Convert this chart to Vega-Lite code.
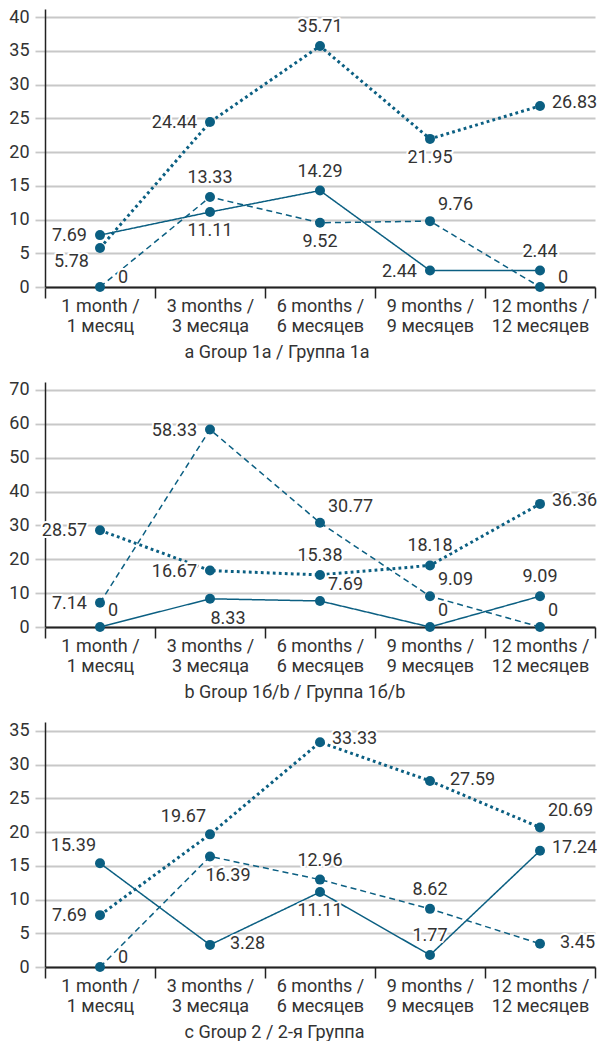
{
  "$schema": "https://vega.github.io/schema/vega-lite/v6.json",
  "background": "white",
  "padding": {"left": 8, "top": 8, "right": 0, "bottom": 0},
  "config": {
    "font": "Roboto",
    "view": {"stroke": null},
    "axis": {"labelFontSize": 18, "labelColor": "#333333", "titleFontSize": 18, "titleColor": "#333333", "titleFontWeight": "normal"},
    "axisX": {"labelAngle": 0, "tickBand": "extent", "tickSize": 11, "tickColor": "#222222", "tickWidth": 1.5, "domainColor": "#222222", "domainWidth": 2, "labelPadding": -1, "labelLineHeight": 20, "grid": false, "titleAlign": "left", "titleX": 139, "titleY": 65, "titleBaseline": "middle",
      "labelExpr": "[slice(datum.label, 0, indexof(datum.label, '/') + 1), slice(datum.label, indexof(datum.label, '/') + 2)]"},
    "axisY": {"title": null, "grid": true, "gridColor": "#c8c8c8", "gridWidth": 1.8, "tickColor": "#c8c8c8", "tickSize": 10, "tickWidth": 1.8, "domainColor": "#222222", "domainWidth": 1.5, "labelPadding": 6}
  },
  "datasets": {
    "d": [
      {"g": "a", "period": "1 month / 1 месяц", "series": "solid", "value": 7.69, "pos": "L"},
      {"g": "a", "period": "1 month / 1 месяц", "series": "dashed", "value": 0, "pos": "R0"},
      {"g": "a", "period": "1 month / 1 месяц", "series": "dotted", "value": 5.78, "pos": "BL"},
      {"g": "a", "period": "3 months / 3 месяца", "series": "solid", "value": 11.11, "pos": "B"},
      {"g": "a", "period": "3 months / 3 месяца", "series": "dashed", "value": 13.33, "pos": "T"},
      {"g": "a", "period": "3 months / 3 месяца", "series": "dotted", "value": 24.44, "pos": "L"},
      {"g": "a", "period": "6 months / 6 месяцев", "series": "solid", "value": 14.29, "pos": "T"},
      {"g": "a", "period": "6 months / 6 месяцев", "series": "dashed", "value": 9.52, "pos": "B"},
      {"g": "a", "period": "6 months / 6 месяцев", "series": "dotted", "value": 35.71, "pos": "T"},
      {"g": "a", "period": "9 months / 9 месяцев", "series": "solid", "value": 2.44, "pos": "L"},
      {"g": "a", "period": "9 months / 9 месяцев", "series": "dashed", "value": 9.76, "pos": "TR"},
      {"g": "a", "period": "9 months / 9 месяцев", "series": "dotted", "value": 21.95, "pos": "B"},
      {"g": "a", "period": "12 months / 12 месяцев", "series": "solid", "value": 2.44, "pos": "T"},
      {"g": "a", "period": "12 months / 12 месяцев", "series": "dashed", "value": 0, "pos": "R0"},
      {"g": "a", "period": "12 months / 12 месяцев", "series": "dotted", "value": 26.83, "pos": "R"},

      {"g": "b", "period": "1 month / 1 месяц", "series": "solid", "value": 0, "pos": "TR"},
      {"g": "b", "period": "1 month / 1 месяц", "series": "dashed", "value": 7.14, "pos": "L"},
      {"g": "b", "period": "1 month / 1 месяц", "series": "dotted", "value": 28.57, "pos": "L"},
      {"g": "b", "period": "3 months / 3 месяца", "series": "solid", "value": 8.33, "pos": "BR"},
      {"g": "b", "period": "3 months / 3 месяца", "series": "dashed", "value": 58.33, "pos": "L"},
      {"g": "b", "period": "3 months / 3 месяца", "series": "dotted", "value": 16.67, "pos": "L"},
      {"g": "b", "period": "6 months / 6 месяцев", "series": "solid", "value": 7.69, "pos": "TR"},
      {"g": "b", "period": "6 months / 6 месяцев", "series": "dashed", "value": 30.77, "pos": "TR"},
      {"g": "b", "period": "6 months / 6 месяцев", "series": "dotted", "value": 15.38, "pos": "T"},
      {"g": "b", "period": "9 months / 9 месяцев", "series": "solid", "value": 0, "pos": "TR"},
      {"g": "b", "period": "9 months / 9 месяцев", "series": "dashed", "value": 9.09, "pos": "TR"},
      {"g": "b", "period": "9 months / 9 месяцев", "series": "dotted", "value": 18.18, "pos": "T"},
      {"g": "b", "period": "12 months / 12 месяцев", "series": "solid", "value": 9.09, "pos": "T"},
      {"g": "b", "period": "12 months / 12 месяцев", "series": "dashed", "value": 0, "pos": "TR"},
      {"g": "b", "period": "12 months / 12 месяцев", "series": "dotted", "value": 36.36, "pos": "R"},

      {"g": "c", "period": "1 month / 1 месяц", "series": "solid", "value": 15.39, "pos": "TL"},
      {"g": "c", "period": "1 month / 1 месяц", "series": "dashed", "value": 0, "pos": "R0"},
      {"g": "c", "period": "1 month / 1 месяц", "series": "dotted", "value": 7.69, "pos": "L"},
      {"g": "c", "period": "3 months / 3 месяца", "series": "solid", "value": 3.28, "pos": "RR"},
      {"g": "c", "period": "3 months / 3 месяца", "series": "dashed", "value": 16.39, "pos": "BR"},
      {"g": "c", "period": "3 months / 3 месяца", "series": "dotted", "value": 19.67, "pos": "TL"},
      {"g": "c", "period": "6 months / 6 месяцев", "series": "solid", "value": 11.11, "pos": "B"},
      {"g": "c", "period": "6 months / 6 месяцев", "series": "dashed", "value": 12.96, "pos": "T"},
      {"g": "c", "period": "6 months / 6 месяцев", "series": "dotted", "value": 33.33, "pos": "R"},
      {"g": "c", "period": "9 months / 9 месяцев", "series": "solid", "value": 1.77, "pos": "T"},
      {"g": "c", "period": "9 months / 9 месяцев", "series": "dashed", "value": 8.62, "pos": "T"},
      {"g": "c", "period": "9 months / 9 месяцев", "series": "dotted", "value": 27.59, "pos": "RR"},
      {"g": "c", "period": "12 months / 12 месяцев", "series": "solid", "value": 17.24, "pos": "R"},
      {"g": "c", "period": "12 months / 12 месяцев", "series": "dashed", "value": 3.45, "pos": "RR"},
      {"g": "c", "period": "12 months / 12 месяцев", "series": "dotted", "value": 20.69, "pos": "TR"}
    ]
  },
  "spacing": 95,
  "bounds": "flush",
  "vconcat": [
    {
      "width": 550, "height": 278,
      "data": {"name": "d"},
      "transform": [{"filter": "datum.g == 'a'"}],
      "encoding": {
        "x": {"field": "period", "type": "nominal", "sort": ["1 month / 1 месяц", "3 months / 3 месяца", "6 months / 6 месяцев", "9 months / 9 месяцев", "12 months / 12 месяцев"], "scale": {"type": "band", "paddingInner": 0, "paddingOuter": 0}, "axis": {"title": "a Group 1a / Группа 1а"}},
        "y": {"field": "value", "type": "quantitative", "scale": {"domain": [0, 41.2], "nice": false, "zero": true}, "axis": {"values": [0, 5, 10, 15, 20, 25, 30, 35, 40]}}
      },
      "layer": [
        {"transform": [{"filter": "datum.series != 'dotted'"}], "mark": {"type": "line", "color": "#0b5f82", "strokeWidth": 1.5}, "encoding": {"detail": {"field": "series"}, "strokeDash": {"field": "series", "type": "nominal", "scale": {"domain": ["solid", "dashed"], "range": [[1, 0], [6, 4]]}, "legend": null}}},
        {"transform": [{"filter": "datum.series == 'dotted'"}], "mark": {"type": "line", "color": "#0b5f82", "strokeWidth": 3, "strokeDash": [2.8, 3.2]}},
        {"mark": {"type": "point", "filled": true, "opacity": 1, "size": 100, "color": "#0b5f82"}},
        {"mark": {"type": "text", "fontSize": 18, "color": "white", "stroke": "white", "strokeWidth": 4, "strokeJoin": "round", "baseline": "middle",
          "align": {"expr": "indexof(['L','BL','TL'], datum.pos) >= 0 ? 'right' : indexof(['R','RR','R0','TR'], datum.pos) >= 0 ? 'left' : 'center'"},
          "dx": {"expr": "datum.pos=='L'?-13:datum.pos=='BL'?-11:datum.pos=='TL'?-4:datum.pos=='R'?12:datum.pos=='RR'?20:datum.pos=='R0'?18:datum.pos=='TR'?8:datum.pos=='BR'?18:0"},
          "dy": {"expr": "datum.pos=='T'?-19:datum.pos=='B'?19:datum.pos=='TR'?-16:datum.pos=='TL'?-17:datum.pos=='BL'?14:datum.pos=='BR'?20:datum.pos=='R0'?-9:datum.pos=='R'?-3:datum.pos=='RR'?-1:1"}},
          "encoding": {"text": {"field": "value", "type": "quantitative", "format": ".2~f"}}},
        {"mark": {"type": "text", "fontSize": 18, "color": "#333333", "baseline": "middle",
          "align": {"expr": "indexof(['L','BL','TL'], datum.pos) >= 0 ? 'right' : indexof(['R','RR','R0','TR'], datum.pos) >= 0 ? 'left' : 'center'"},
          "dx": {"expr": "datum.pos=='L'?-13:datum.pos=='BL'?-11:datum.pos=='TL'?-4:datum.pos=='R'?12:datum.pos=='RR'?20:datum.pos=='R0'?18:datum.pos=='TR'?8:datum.pos=='BR'?18:0"},
          "dy": {"expr": "datum.pos=='T'?-19:datum.pos=='B'?19:datum.pos=='TR'?-16:datum.pos=='TL'?-17:datum.pos=='BL'?14:datum.pos=='BR'?20:datum.pos=='R0'?-9:datum.pos=='R'?-3:datum.pos=='RR'?-1:1"}},
          "encoding": {"text": {"field": "value", "type": "quantitative", "format": ".2~f"}}}
      ]
    },
    {
      "width": 550, "height": 245,
      "data": {"name": "d"},
      "transform": [{"filter": "datum.g == 'b'"}],
      "encoding": {
        "x": {"field": "period", "type": "nominal", "sort": ["1 month / 1 месяц", "3 months / 3 месяца", "6 months / 6 месяцев", "9 months / 9 месяцев", "12 months / 12 месяцев"], "scale": {"type": "band", "paddingInner": 0, "paddingOuter": 0}, "axis": {"title": "b Group 1б/b / Группа 1б/b"}},
        "y": {"field": "value", "type": "quantitative", "scale": {"domain": [0, 72.36], "nice": false, "zero": true}, "axis": {"values": [0, 10, 20, 30, 40, 50, 60, 70]}}
      },
      "layer": [
        {"transform": [{"filter": "datum.series != 'dotted'"}], "mark": {"type": "line", "color": "#0b5f82", "strokeWidth": 1.5}, "encoding": {"detail": {"field": "series"}, "strokeDash": {"field": "series", "type": "nominal", "scale": {"domain": ["solid", "dashed"], "range": [[1, 0], [6, 4]]}, "legend": null}}},
        {"transform": [{"filter": "datum.series == 'dotted'"}], "mark": {"type": "line", "color": "#0b5f82", "strokeWidth": 3, "strokeDash": [2.8, 3.2]}},
        {"mark": {"type": "point", "filled": true, "opacity": 1, "size": 100, "color": "#0b5f82"}},
        {"mark": {"type": "text", "fontSize": 18, "color": "white", "stroke": "white", "strokeWidth": 4, "strokeJoin": "round", "baseline": "middle",
          "align": {"expr": "indexof(['L','BL','TL'], datum.pos) >= 0 ? 'right' : indexof(['R','RR','R0','TR'], datum.pos) >= 0 ? 'left' : 'center'"},
          "dx": {"expr": "datum.pos=='L'?-13:datum.pos=='BL'?-11:datum.pos=='TL'?-4:datum.pos=='R'?12:datum.pos=='RR'?20:datum.pos=='R0'?18:datum.pos=='TR'?8:datum.pos=='BR'?18:0"},
          "dy": {"expr": "datum.pos=='T'?-19:datum.pos=='B'?19:datum.pos=='TR'?-16:datum.pos=='TL'?-17:datum.pos=='BL'?14:datum.pos=='BR'?20:datum.pos=='R0'?-9:datum.pos=='R'?-3:datum.pos=='RR'?-1:1"}},
          "encoding": {"text": {"field": "value", "type": "quantitative", "format": ".2~f"}}},
        {"mark": {"type": "text", "fontSize": 18, "color": "#333333", "baseline": "middle",
          "align": {"expr": "indexof(['L','BL','TL'], datum.pos) >= 0 ? 'right' : indexof(['R','RR','R0','TR'], datum.pos) >= 0 ? 'left' : 'center'"},
          "dx": {"expr": "datum.pos=='L'?-13:datum.pos=='BL'?-11:datum.pos=='TL'?-4:datum.pos=='R'?12:datum.pos=='RR'?20:datum.pos=='R0'?18:datum.pos=='TR'?8:datum.pos=='BR'?18:0"},
          "dy": {"expr": "datum.pos=='T'?-19:datum.pos=='B'?19:datum.pos=='TR'?-16:datum.pos=='TL'?-17:datum.pos=='BL'?14:datum.pos=='BR'?20:datum.pos=='R0'?-9:datum.pos=='R'?-3:datum.pos=='RR'?-1:1"}},
          "encoding": {"text": {"field": "value", "type": "quantitative", "format": ".2~f"}}}
      ]
    },
    {
      "width": 550, "height": 245,
      "data": {"name": "d"},
      "transform": [{"filter": "datum.g == 'c'"}],
      "encoding": {
        "x": {"field": "period", "type": "nominal", "sort": ["1 month / 1 месяц", "3 months / 3 месяца", "6 months / 6 месяцев", "9 months / 9 месяцев", "12 months / 12 месяцев"], "scale": {"type": "band", "paddingInner": 0, "paddingOuter": 0}, "axis": {"title": "c Group 2 / 2-я Группа"}},
        "y": {"field": "value", "type": "quantitative", "scale": {"domain": [0, 36.33], "nice": false, "zero": true}, "axis": {"values": [0, 5, 10, 15, 20, 25, 30, 35]}}
      },
      "layer": [
        {"transform": [{"filter": "datum.series != 'dotted'"}], "mark": {"type": "line", "color": "#0b5f82", "strokeWidth": 1.5}, "encoding": {"detail": {"field": "series"}, "strokeDash": {"field": "series", "type": "nominal", "scale": {"domain": ["solid", "dashed"], "range": [[1, 0], [6, 4]]}, "legend": null}}},
        {"transform": [{"filter": "datum.series == 'dotted'"}], "mark": {"type": "line", "color": "#0b5f82", "strokeWidth": 3, "strokeDash": [2.8, 3.2]}},
        {"mark": {"type": "point", "filled": true, "opacity": 1, "size": 100, "color": "#0b5f82"}},
        {"mark": {"type": "text", "fontSize": 18, "color": "white", "stroke": "white", "strokeWidth": 4, "strokeJoin": "round", "baseline": "middle",
          "align": {"expr": "indexof(['L','BL','TL'], datum.pos) >= 0 ? 'right' : indexof(['R','RR','R0','TR'], datum.pos) >= 0 ? 'left' : 'center'"},
          "dx": {"expr": "datum.pos=='L'?-13:datum.pos=='BL'?-11:datum.pos=='TL'?-4:datum.pos=='R'?12:datum.pos=='RR'?20:datum.pos=='R0'?18:datum.pos=='TR'?8:datum.pos=='BR'?18:0"},
          "dy": {"expr": "datum.pos=='T'?-19:datum.pos=='B'?19:datum.pos=='TR'?-16:datum.pos=='TL'?-17:datum.pos=='BL'?14:datum.pos=='BR'?20:datum.pos=='R0'?-9:datum.pos=='R'?-3:datum.pos=='RR'?-1:1"}},
          "encoding": {"text": {"field": "value", "type": "quantitative", "format": ".2~f"}}},
        {"mark": {"type": "text", "fontSize": 18, "color": "#333333", "baseline": "middle",
          "align": {"expr": "indexof(['L','BL','TL'], datum.pos) >= 0 ? 'right' : indexof(['R','RR','R0','TR'], datum.pos) >= 0 ? 'left' : 'center'"},
          "dx": {"expr": "datum.pos=='L'?-13:datum.pos=='BL'?-11:datum.pos=='TL'?-4:datum.pos=='R'?12:datum.pos=='RR'?20:datum.pos=='R0'?18:datum.pos=='TR'?8:datum.pos=='BR'?18:0"},
          "dy": {"expr": "datum.pos=='T'?-19:datum.pos=='B'?19:datum.pos=='TR'?-16:datum.pos=='TL'?-17:datum.pos=='BL'?14:datum.pos=='BR'?20:datum.pos=='R0'?-9:datum.pos=='R'?-3:datum.pos=='RR'?-1:1"}},
          "encoding": {"text": {"field": "value", "type": "quantitative", "format": ".2~f"}}}
      ]
    }
  ]
}
